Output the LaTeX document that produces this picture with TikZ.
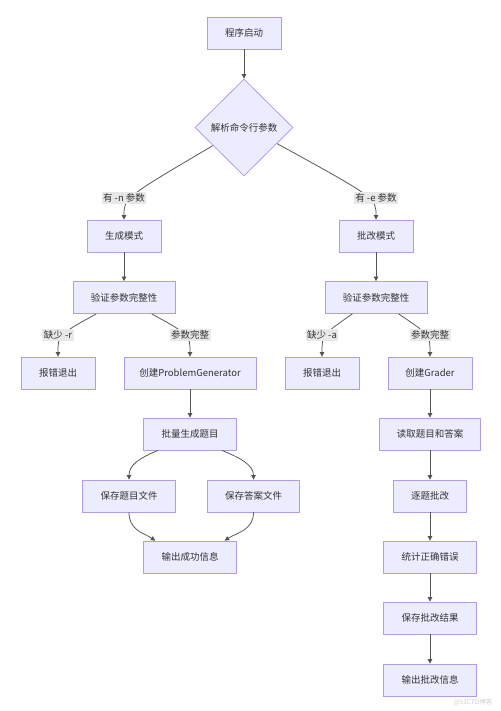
\documentclass[tikz,border=0pt]{standalone}
\usepackage{fontspec}
\setmainfont{Noto Sans CJK SC}
\usetikzlibrary{shapes.geometric,arrows.meta,calc}
\definecolor{boxfill}{HTML}{ECECFF}
\definecolor{boxlinebase}{HTML}{9370DB}
\colorlet{boxline}{boxlinebase!70!white}
\definecolor{txt}{HTML}{333333}
\definecolor{lblbg}{HTML}{E8E8E8}
\begin{document}
\begin{tikzpicture}[x=1pt,y=-1pt,
  box/.style={draw=boxline, fill=boxfill, line width=0.8pt, minimum height=32pt,
    minimum width=#1, inner sep=0pt, text=txt, font=\fontsize{9.5}{11}\selectfont},
  box/.default=74pt,
  dec/.style={diamond, shape aspect=1, draw=boxline, fill=boxfill, line width=0.8pt,
    minimum width=98pt, minimum height=97pt, inner sep=0pt, text=txt,
    font=\fontsize{9.5}{11}\selectfont},
  lbl/.style={fill=lblbg, inner xsep=1.5pt, inner ysep=2pt, text=txt,
    font=\fontsize{9.5}{11}\selectfont},
  edge/.style={draw=txt!85, line width=0.75pt, -{Triangle[width=4.5pt,length=4.5pt]}}
]
\useasboundingbox[fill=white] (0,0) rectangle (500,711);

% nodes
\node[box] (start) at (244,33) {程序启动};
\node[dec] (parse) at (244,127.5) {解析命令行参数};
\node[box] (gen) at (124,236) {生成模式};
\node[box] (grade) at (376,236) {批改模式};
\node[box=102pt] (vl) at (124,297.5) {验证参数完整性};
\node[box=102pt] (vr) at (376,297.5) {验证参数完整性};
\node[box] (errl) at (58,373) {报错退出};
\node[box=132pt] (pg) at (190,373) {创建ProblemGenerator};
\node[box] (errr) at (322,373) {报错退出};
\node[box=84pt] (gr) at (430,373) {创建Grader};
\node[box=93pt] (batch) at (190,434) {批量生成题目};
\node[box=101pt] (read) at (430,434) {读取题目和答案};
\node[box=92.5pt] (saveq) at (129,496) {保存题目文件};
\node[box=92.5pt] (savea) at (253.5,496) {保存答案文件};
\node[box=73pt] (each) at (430,496) {逐题批改};
\node[box=93pt] (out) at (190,557) {输出成功信息};
\node[box=93pt] (stat) at (430,557) {统计正确错误};
\node[box=93pt] (saver) at (430,618) {保存批改结果};
\node[box=93pt] (outr) at (430,680) {输出批改信息};

% label positions
\coordinate (cn) at (124,198);
\coordinate (ce) at (376,198);
\coordinate (cr) at (58,335);
\coordinate (cok1) at (190,335);
\coordinate (ca) at (322,335);
\coordinate (cok2) at (430,335);

% edges
\draw[edge] (start) -- (parse);
\draw[edge] ($(parse.west)!0.37!(parse.south)$) .. controls (cn) .. (gen.north);
\draw[edge] ($(parse.east)!0.33!(parse.south)$) .. controls (ce) .. (grade.north);
\draw[edge] (gen) -- (vl);
\draw[edge] (grade) -- (vr);
\draw[edge] ($(vl.south west)!0.23!(vl.south east)$) .. controls (cr) .. (errl.north);
\draw[edge] ($(vl.south west)!0.77!(vl.south east)$) .. controls (cok1) .. (pg.north);
\draw[edge] ($(vr.south west)!0.27!(vr.south east)$) .. controls (ca) .. (errr.north);
\draw[edge] ($(vr.south west)!0.72!(vr.south east)$) .. controls (cok2) .. (gr.north);
\draw[edge] (pg) -- (batch);
\draw[edge] ($(batch.south west)!0.16!(batch.south east)$) .. controls +(-20,8) and +(0,-14) .. (saveq.north);
\draw[edge] ($(batch.south west)!0.84!(batch.south east)$) .. controls +(20,8) and +(0,-14) .. (savea.north);
\draw[edge] (saveq.south) .. controls +(0,18) and +(-12,-8) .. ($(out.north west)!0.13!(out.north east)$);
\draw[edge] (savea.south) .. controls +(0,18) and +(12,-8) .. ($(out.north west)!0.87!(out.north east)$);
\draw[edge] (gr) -- (read);
\draw[edge] (read) -- (each);
\draw[edge] (each) -- (stat);
\draw[edge] (stat) -- (saver);
\draw[edge] (saver) -- (outr);

% edge labels
\node[lbl] (ln) at (cn) {有 -n 参数};
\node[lbl] (le) at (ce) {有 -e 参数};
\node[lbl] (lr) at (cr) {缺少 -r};
\node[lbl] (lok1) at (cok1) {参数完整};
\node[lbl] (la) at (ca) {缺少 -a};
\node[lbl] (lok2) at (cok2) {参数完整};

% watermark
\node[text=black!18, font=\fontsize{6.5}{8}\selectfont] (wm) at (473,702) {@51CTO博客};
\end{tikzpicture}
\end{document}
